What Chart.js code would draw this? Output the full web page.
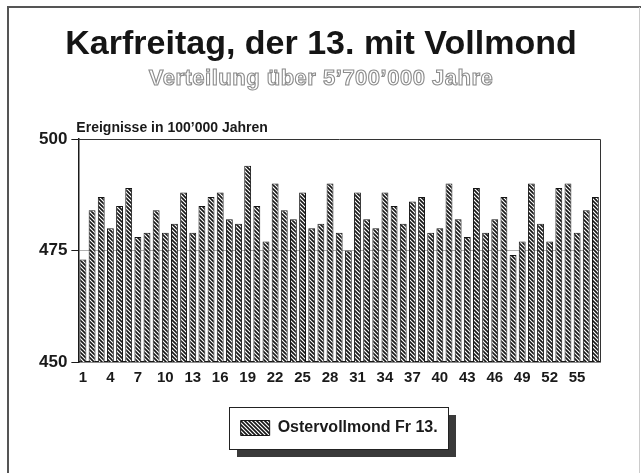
<!DOCTYPE html>
<html>
<head>
<meta charset="utf-8">
<script src="https://cdn.jsdelivr.net/npm/chart.js@4"></script>
<style>
  html, body { margin: 0; padding: 0; background: #fff; }
  #wrap { position: relative; width: 641px; height: 473px; overflow: hidden; background: #fff; }
  canvas { position: absolute; left: 0; top: 0; }
</style>
</head>
<body>
<div id="wrap">
  <canvas id="c" width="641" height="473"></canvas>
</div>
<script>
// ---- data ----
const titleText = 'Karfreitag, der 13. mit Vollmond';
const subtitleText = 'Verteilung über 5’700’000 Jahre';
const categories = Array.from({length: 57}, (_, i) => String(i + 1));
const seriesName = 'Ostervollmond Fr 13.';
const seriesValues = [
  473, 484, 487, 480, 485, 489, 478, 479, 484, 479,
  481, 488, 479, 485, 487, 488, 482, 481, 494, 485,
  477, 490, 484, 482, 488, 480, 481, 490, 479, 475,
  488, 482, 480, 488, 485, 481, 486, 487, 479, 480,
  490, 482, 478, 489, 479, 482, 487, 474, 477, 490,
  481, 477, 489, 490, 479, 484, 487
];
const yTicks = [450, 475, 500];
const yAxisLabel = 'Ereignisse in 100’000 Jahren';

// ---- hatch pattern ----
function makeHatch() {
  const s = 4;
  const c = document.createElement('canvas');
  c.width = s; c.height = s;
  const g = c.getContext('2d');
  g.fillStyle = '#fff';
  g.fillRect(0, 0, s, s);
  g.strokeStyle = '#151515';
  g.lineWidth = 1.6;
  g.beginPath();
  g.moveTo(-1, -1); g.lineTo(s + 1, s + 1);
  g.moveTo(-1, s - 1); g.lineTo(1, s + 1);
  g.moveTo(s - 1, -1); g.lineTo(s + 1, 1);
  g.stroke();
  return g.createPattern(c, 'repeat');
}
const hatch = makeHatch();

const FONT = '"Liberation Sans", Arial, sans-serif';
Chart.defaults.font.family = FONT;
Chart.defaults.color = '#1a1a1a';

const decor = {
  id: 'decor',
  beforeDraw(chart) {
    const ctx = chart.ctx;
    const W = chart.width;
    ctx.save();
    // outer frame (left, top, right)
    ctx.strokeStyle = '#555';
    ctx.lineWidth = 2;
    ctx.beginPath();
    ctx.moveTo(8, 480); ctx.lineTo(8, 7); ctx.lineTo(W, 7);
    ctx.stroke();
    ctx.strokeStyle = '#ccc';
    ctx.lineWidth = 1;
    ctx.beginPath();
    ctx.moveTo(639.5, 7); ctx.lineTo(639.5, 480);
    ctx.stroke();
    // title
    ctx.textAlign = 'center';
    ctx.textBaseline = 'alphabetic';
    ctx.fillStyle = '#151515';
    ctx.font = 'bold 34px ' + FONT;
    ctx.fillText(titleText, 321, 54);
    // outlined subtitle
    ctx.font = 'bold 22px ' + FONT;
    try { ctx.letterSpacing = '0.5px'; } catch (e) {}
    ctx.fillStyle = '#fff';
    ctx.fillText(subtitleText, 321, 85);
    ctx.strokeStyle = '#8c8c8c';
    ctx.lineWidth = 1.1;
    ctx.strokeText(subtitleText, 321, 85);
    try { ctx.letterSpacing = '0px'; } catch (e) {}
    ctx.restore();

    const lg = chart.legend;
    if (lg && lg.legendHitBoxes && lg.legendHitBoxes.length) {
      const hb = lg.legendHitBoxes[0];
      const x0 = Math.round(hb.left - 12), y0 = Math.round(hb.top + hb.height / 2 - 21);
      const w = Math.round(hb.width + 22), h = 42;
      ctx.save();
      ctx.fillStyle = '#3a3a3a';
      ctx.fillRect(x0 + 8, y0 + 8, w, h);
      ctx.fillStyle = '#fff';
      ctx.fillRect(x0, y0, w, h);
      ctx.strokeStyle = '#222';
      ctx.lineWidth = 1;
      ctx.strokeRect(x0 + 0.5, y0 + 0.5, w, h);
      ctx.restore();
    }
  },
  afterDatasetsDraw(chart) {
    const {ctx, chartArea: a} = chart;
    ctx.save();
    ctx.strokeStyle = '#333';
    ctx.lineWidth = 1;
    ctx.beginPath();
    ctx.moveTo(a.left, a.top + 0.5);
    ctx.lineTo(a.right + 0.5, a.top + 0.5);
    ctx.lineTo(a.right + 0.5, a.bottom);
    ctx.stroke();
    ctx.fillStyle = '#1a1a1a';
    ctx.font = 'bold 14px ' + FONT;
    ctx.textBaseline = 'alphabetic';
    ctx.textAlign = 'left';
    ctx.fillText(yAxisLabel, a.left - 2, a.top - 7);
    ctx.restore();
  }
};

new Chart(document.getElementById('c'), {
  type: 'bar',
  data: {
    labels: categories,
    datasets: [{
      label: seriesName,
      data: seriesValues,
      backgroundColor: hatch,
      borderColor: '#151515',
      borderWidth: 1,
      borderSkipped: false,
      barPercentage: 0.75,
      categoryPercentage: 1.0
    }]
  },
  options: {
    responsive: false,
    animation: false,
    layout: { padding: { left: 35, right: 41, top: 139, bottom: 27 } },
    plugins: {
      legend: {
        position: 'bottom',
        fullSize: false,
        labels: {
          boxWidth: 29, boxHeight: 15, padding: 33,
          color: '#1a1a1a',
          font: { size: 16, weight: 'bold' }
        }
      },
      tooltip: { enabled: false }
    },
    scales: {
      x: {
        afterFit: (s) => { s.height = 25; },
        grid: { display: false, drawTicks: false },
        border: { color: '#1a1a1a', width: 1.5 },
        ticks: {
          autoSkip: false, maxRotation: 0, padding: 7,
          font: { size: 15, weight: 'bold' }, color: '#1a1a1a',
          callback: function(v, i) { return i % 3 === 0 ? categories[i] : ''; }
        }
      },
      y: {
        min: yTicks[0], max: yTicks[yTicks.length - 1],
        afterBuildTicks: (s) => { s.ticks = yTicks.map(v => ({value: v})); },
        grid: {
          color: (c) => c.tick && c.tick.value === 475 ? '#b0b0b0' : 'rgba(0,0,0,0)',
          tickColor: '#1a1a1a', tickLength: 7, lineWidth: 1
        },
        border: { color: '#1a1a1a', width: 1.5 },
        ticks: { padding: 4, font: { size: 17, weight: 'bold' }, color: '#1a1a1a' }
      }
    }
  },
  plugins: [decor]
});
</script>
</body>
</html>
